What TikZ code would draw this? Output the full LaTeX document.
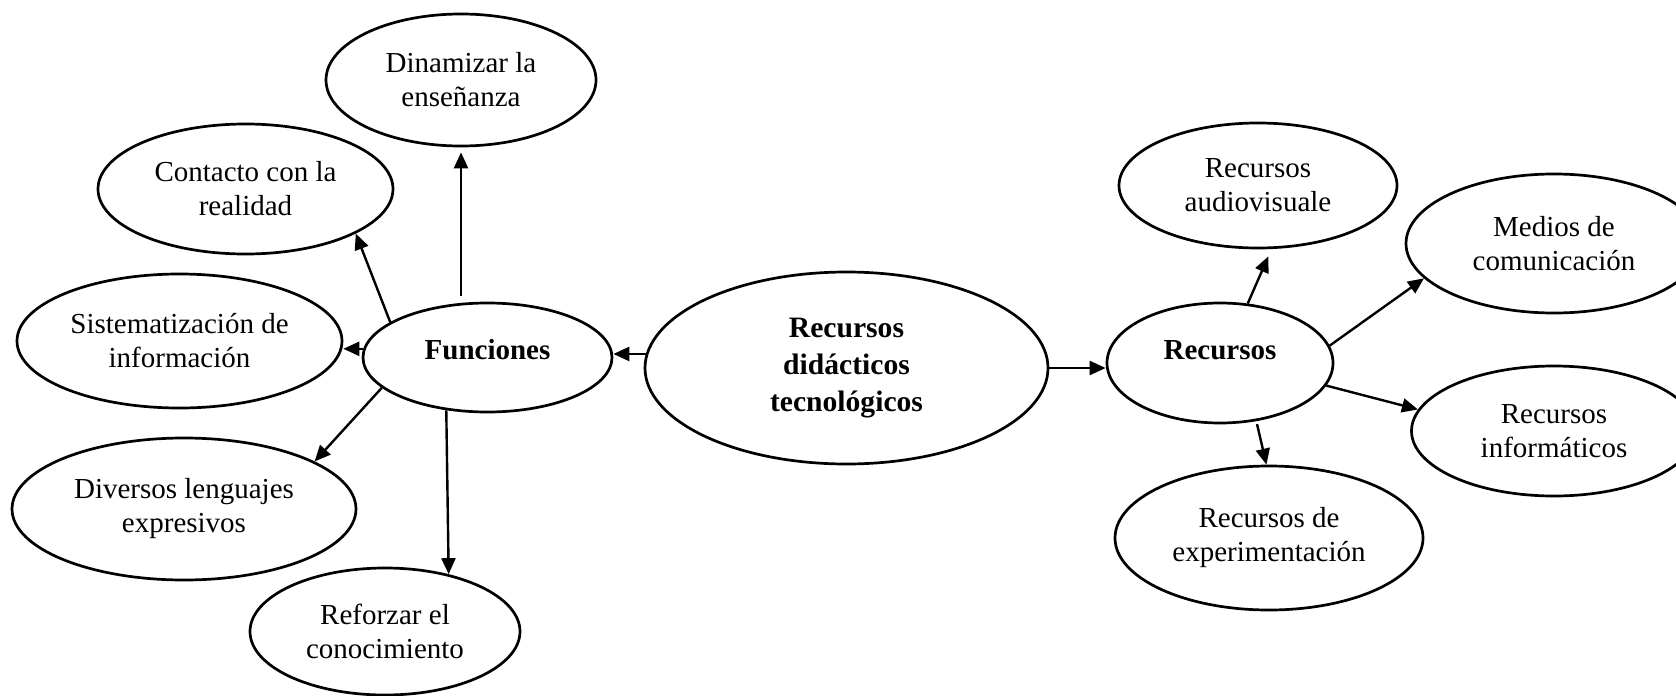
\documentclass[tikz,border=0pt]{standalone}
\usepackage{fontspec}
\setmainfont{Liberation Serif}
\usetikzlibrary{shapes.geometric,arrows.meta}
\tikzset{
  ell/.style={ellipse, draw, line width=1.35pt, inner sep=0pt, align=center,
    font=\fontsize{14.5}{17}\selectfont},
  boldlbl/.style={font=\fontsize{14.5}{17}\selectfont\bfseries},
  arr/.style={-{Triangle[length=8pt,width=7pt]}, line width=1.2pt},
}
\begin{document}
\begin{tikzpicture}[x=0.5pt,y=-0.5pt]
\fill[white] (0,0) rectangle (1676,696);
\useasboundingbox (0,0) rectangle (1676,696);

% central node
\node[ell, minimum width=201.5pt, minimum height=96pt,
  font=\fontsize{14.8}{18.5}\selectfont\bfseries] (cen) at (846.5,368)
  {Recursos\\didácticos\\tecnológicos};

% left branch
\node[ell, minimum width=124.5pt, minimum height=54.5pt,
  label={[boldlbl, yshift=3.75pt]center:Funciones}] (fun) at (487.5,357.5) {};
\node[ell, minimum width=135pt, minimum height=66pt] (din) at (461,80)
  {Dinamizar la\\enseñanza};
\node[ell, minimum width=147.5pt, minimum height=65pt] (con) at (245.5,189)
  {Contacto con la\\realidad};
\node[ell, minimum width=162.5pt, minimum height=67pt] (sis) at (179.5,341)
  {Sistematización de\\información};
\node[ell, minimum width=172pt, minimum height=71pt] (div) at (184,509)
  {Diversos lenguajes\\expresivos};
\node[ell, minimum width=135pt, minimum height=63.5pt] (ref) at (385,631.5)
  {Reforzar el\\conocimiento};

% right branch
\node[ell, minimum width=113pt, minimum height=60pt,
  label={[boldlbl, yshift=6.5pt]center:Recursos}] (rec) at (1220,363) {};
\node[ell, minimum width=139pt, minimum height=62.5pt] (aud) at (1258,185.5)
  {Recursos\\audiovisuale};
\node[ell, minimum width=148pt, minimum height=69.5pt] (med) at (1554,243.5)
  {Medios de\\comunicación};
\node[ell, minimum width=142.5pt, minimum height=65pt] (inf) at (1554,431)
  {Recursos\\informáticos};
\node[ell, minimum width=154pt, minimum height=72pt] (exp) at (1269,538)
  {Recursos de\\experimentación};

% connectors
\draw[arr] (cen.176) -- (cen.176 -| fun.east);
\draw[arr] (fun.176) -- (fun.176 -| sis.east);
\draw[arr, shorten <=3pt, shorten >=2.5pt] (fun.north -| din.south) -- (din.south);
\draw[arr] (fun.160) -- (con.-22);
\draw[arr] (fun.196) -- (div.20.5);
\draw[arr] (fun.232) -- (ref.42);

\draw[arr] (cen.east) -- (cen.east -| rec.west);
\draw[arr, shorten >=4pt] (rec.65) -- (aud.-78);
\draw[arr] (rec.9) -- (med.195);
\draw[arr] (rec.-12.5) -- (inf.171);
\draw[arr, shorten <=1.5pt] (rec.-58) -- (exp.92);
\end{tikzpicture}
\end{document}
